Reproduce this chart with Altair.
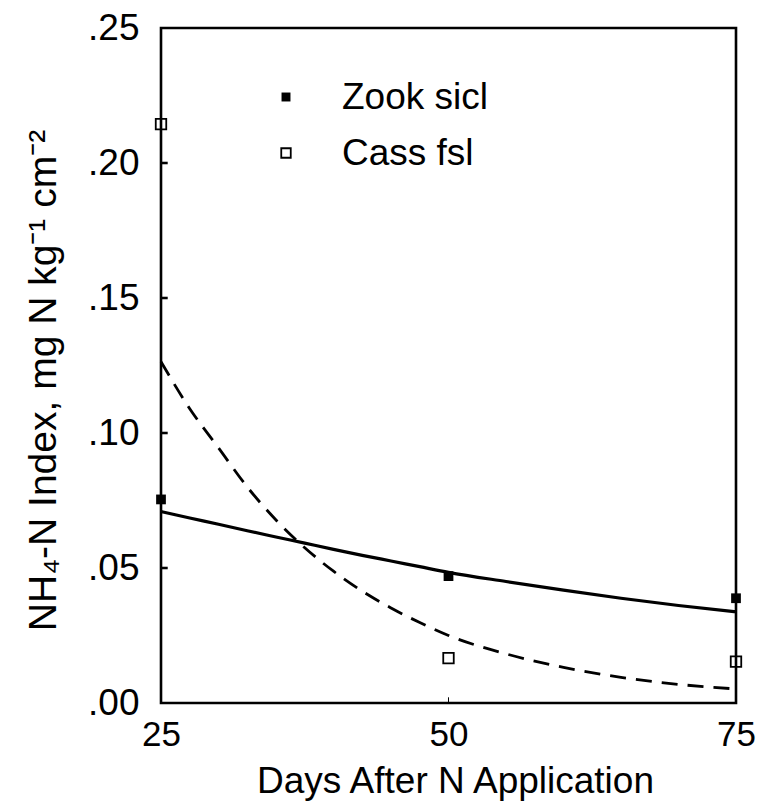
import altair as alt
import pandas as pd

# ---- data ----
days = [25, 50, 75]
zook_obs = [0.0754, 0.0470, 0.0388]
cass_obs = [0.2144, 0.0166, 0.0153]

curve_days = [25, 27.5, 30, 32.5, 35, 37.5, 40, 42.5, 45, 47.5, 50, 55, 60, 65, 70, 75]
zook_fit = [0.0709, 0.0685, 0.0662, 0.0638, 0.0615, 0.0592, 0.0569, 0.0547,
            0.0526, 0.0505, 0.0484, 0.0450, 0.0418, 0.0388, 0.0361, 0.0338]
cass_fit = [0.1264, 0.1090, 0.0945, 0.0800, 0.0678, 0.0575, 0.0488, 0.0414,
            0.0352, 0.0298, 0.0250, 0.0182, 0.0132, 0.0095, 0.0069, 0.0052]

series = ["Zook sicl", "Cass fsl"]
y_ticks = [0.00, 0.05, 0.10, 0.15, 0.20, 0.25]
inner_y_ticks = [0.05, 0.10, 0.15, 0.20]
x_ticks = [25, 50, 75]
inner_x_ticks = [50]

FONT = "Liberation Sans"

obs = pd.DataFrame({
    "day": days * 2,
    "value": zook_obs + cass_obs,
    "series": [series[0]] * 3 + [series[1]] * 3,
})
fit = pd.DataFrame({
    "day": curve_days * 2,
    "value": zook_fit + cass_fit,
    "series": [series[0]] * len(curve_days) + [series[1]] * len(curve_days),
})
ytk = pd.DataFrame({"value": inner_y_ticks, "day": [x_ticks[0]] * len(inner_y_ticks)})
xtk = pd.DataFrame({"day": inner_x_ticks, "value": [y_ticks[0]] * len(inner_x_ticks)})

xscale = alt.Scale(domain=[25, 75], nice=False, zero=False)
yscale = alt.Scale(domain=[0, 0.25], nice=False, zero=True)

x_axis = alt.Axis(values=x_ticks, ticks=False, domain=False, grid=False,
                  labelFontSize=35, labelFont=FONT, labelPadding=14,
                  labelFlush=False, labelOverlap=False, labelColor="black",
                  title="Days After N Application", titleFont=FONT,
                  titleFontSize=37, titleFontWeight="normal", titleColor="black",
                  titleX=294, titleY=78, titleBaseline="middle", titleAnchor="middle")
y_axis = alt.Axis(values=y_ticks, ticks=False, domain=False, grid=False,
                  labelExpr="replace(format(datum.value, '.2f'), '0.', '.')",
                  labelFontSize=37, labelFont=FONT, labelPadding=22,
                  labelOverlap=False, labelColor="black",
                  title="NH₄-N Index, mg N kg⁻¹ cm⁻²", titleFont=FONT,
                  titleFontSize=39, titleFontWeight="normal", titleColor="black",
                  titleX=-118, titleY=352, titleAngle=270, titleBaseline="middle",
                  titleAlign="center")

zook_line = alt.Chart(fit[fit.series == series[0]]).mark_line(
    color="black", strokeWidth=3.2, interpolate="monotone"
).encode(
    x=alt.X("day:Q", scale=xscale, axis=x_axis),
    y=alt.Y("value:Q", scale=yscale, axis=y_axis),
)
cass_line = alt.Chart(fit[fit.series == series[1]]).mark_line(
    color="black", strokeWidth=2.8, strokeDash=[16, 10], interpolate="monotone"
).encode(
    x=alt.X("day:Q", scale=xscale),
    y=alt.Y("value:Q", scale=yscale),
)

zook_pts = alt.Chart(obs[obs.series == series[0]]).mark_point(
    shape="square", filled=True, color="black", size=95, opacity=1
).encode(x=alt.X("day:Q", scale=xscale), y=alt.Y("value:Q", scale=yscale))
cass_pts = alt.Chart(obs[obs.series == series[1]]).mark_point(
    shape="square", filled=False, color="black", size=110, strokeWidth=1.8, opacity=1
).encode(x=alt.X("day:Q", scale=xscale), y=alt.Y("value:Q", scale=yscale))

# inward tick marks, drawn as small filled bars anchored on the axes
ytick_marks = alt.Chart(ytk).mark_point(
    shape="M0,-0.19L1,-0.19L1,0.19L0,0.19Z", filled=True, color="black",
    size=180, opacity=1
).encode(x=alt.X("day:Q", scale=xscale), y=alt.Y("value:Q", scale=yscale))
xtick_marks = alt.Chart(xtk).mark_point(
    shape="M-0.09,0L0.09,0L0.09,-1L-0.09,-1Z", filled=True, color="black",
    size=130, opacity=1
).encode(x=alt.X("day:Q", scale=xscale), y=alt.Y("value:Q", scale=yscale))

# legend (drawn inside the plot)
leg = pd.DataFrame({"series": series})
leg_zook_sym = alt.Chart(leg.iloc[[0]]).mark_point(
    shape="square", filled=True, color="black", size=80, opacity=1
).encode(x=alt.value(125), y=alt.value(69))
leg_cass_sym = alt.Chart(leg.iloc[[1]]).mark_point(
    shape="square", filled=False, color="black", size=90, strokeWidth=1.8, opacity=1
).encode(x=alt.value(125), y=alt.value(125))
leg_zook_txt = alt.Chart(leg.iloc[[0]]).mark_text(
    font=FONT, fontSize=37, align="left", baseline="middle", color="black"
).encode(x=alt.value(181), y=alt.value(70), text="series:N")
leg_cass_txt = alt.Chart(leg.iloc[[1]]).mark_text(
    font=FONT, fontSize=37, align="left", baseline="middle", color="black"
).encode(x=alt.value(181), y=alt.value(126), text="series:N")

chart = alt.layer(
    zook_line, cass_line, ytick_marks, xtick_marks, zook_pts, cass_pts,
    leg_zook_sym, leg_cass_sym, leg_zook_txt, leg_cass_txt,
).properties(
    width=575, height=675,
    autosize=alt.AutoSizeParams(type="none"),
    padding={"left": 153, "top": 20, "right": 21, "bottom": 100},
    background="white",
).configure_view(stroke="black", strokeWidth=2.6)

chart.save("out.html", embed_options={"renderer": "svg", "actions": False})
